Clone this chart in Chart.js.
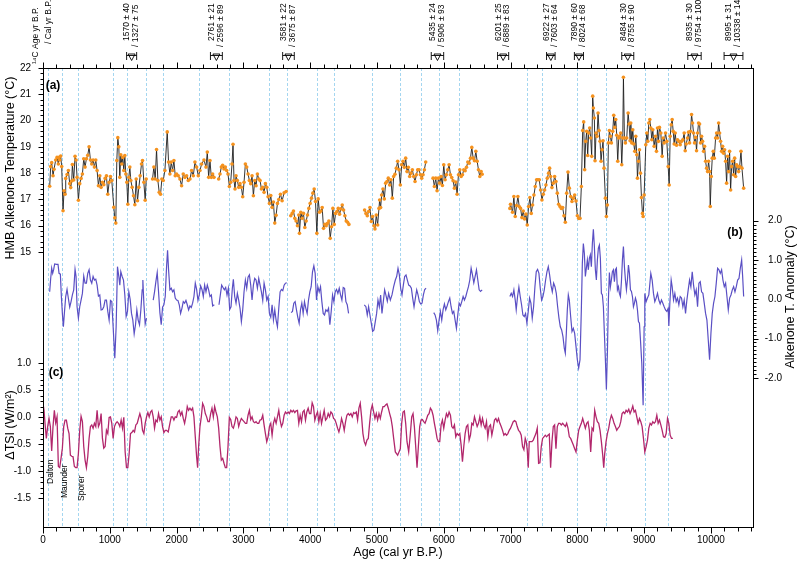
<!DOCTYPE html>
<html>
<head>
<meta charset="utf-8">
<script src="https://cdn.jsdelivr.net/npm/chart.js@4.4.0/dist/chart.umd.min.js"></script>
<style>
  body { margin: 0; background: #fff; }
  #wrap { width: 799px; height: 561px; }
</style>
</head>
<body>
<div id="wrap"><canvas id="Graphique" width="799" height="561"></canvas></div>
<script>
/*
  HMB alkenone temperature (a), its anomaly (b) and solar forcing dTSI (c)
  ages in cal yr B.P.; null = gap in the record
*/
var tempAge = [
    100, 115, 130, 150, 165, 190, 210, 230, 240, 250,
    265, 280, 300, 315, 330, 340, 360, 380, 400, 415,
    430, 440, 460, 480, 495, 510, 530, 550, 570, 590,
    610, 630, 650, 670, 690, 710, 730, 750, 770, 790,
    810, 830, 850, 870, 890, 910, 930, 950, 970, 990,
    1010, 1030, 1060, 1075, 1090, 1105, 1120, 1135, 1150, 1165,
    1180, 1195, 1210, 1225, 1240, 1255, 1270, 1285, 1300, 1315,
    1335, 1355, 1375, 1395, 1415, 1435, 1455, 1475, 1490, 1510,
    1530, 1545,
    1595,
    1640, 1660, 1680, 1700, 1720, 1740, 1760, 1780, 1800, 1825,
    1860, 1880, 1900, 1920, 1940, 1960, 1980, 2000, 2025, 2050,
    2075, 2100, 2125, 2150, 2175, 2200, 2225, 2250, 2275, 2300,
    2325, 2350, 2375, 2410, 2440, 2460, 2480, 2500, 2520, 2540,
    2560,
    2595,
    2630, 2650, 2670, 2690, 2710, 2730, 2750, 2770, 2790, 2810,
    2830, 2845, 2860, 2875, 2890, 2910, 2930, 2950, 2970, 2990,
    3010, 3030, 3050, 3070, 3090, 3110, 3130, 3150, 3170, 3190,
    3210, 3230, 3250, 3270, 3290, 3310, 3330, 3350, 3370, 3390,
    3410, 3430, 3450, 3470, 3490, 3510, 3530, 3555, 3580, 3610,
    3640,
    3675,
    3710, 3730, 3750, 3770, 3790, 3810, 3830, 3840, 3860, 3880,
    3900, 3920, 3940, 3960, 3980, 4000, 4020, 4040, 4060, 4080,
    4100, 4120, 4140, 4160, 4180, 4200, 4220, 4240, 4260, 4280,
    4300, 4320, 4340, 4360, 4380, 4400, 4420, 4440, 4460, 4480,
    4500, 4520, 4540, 4560, 4580,
    4700,
    4815, 4835, 4855, 4875, 4895, 4915, 4935, 4955, 4970, 4990,
    5010, 5030, 5040, 5055, 5070, 5090, 5110, 5130, 5150, 5170,
    5190, 5210, 5230, 5250, 5270, 5290, 5310, 5330, 5350, 5370,
    5390, 5410, 5430, 5450, 5470, 5490, 5510, 5530, 5550, 5570,
    5590, 5610, 5630, 5650, 5670, 5690, 5710, 5730,
    5785,
    5840, 5860, 5880, 5900, 5920, 5940, 5960, 5980, 6000, 6020,
    6040, 6060, 6080, 6100, 6120, 6140, 6160, 6180, 6200, 6220,
    6240, 6260, 6280, 6300, 6320, 6340, 6360, 6380, 6400, 6420,
    6440, 6460, 6480, 6500, 6520, 6540, 6560, 6575,
    6780,
    6990, 7000, 7030, 7050, 7070, 7090, 7110, 7130, 7150, 7170,
    7190, 7210, 7230, 7250, 7270, 7290, 7310, 7330, 7350, 7370,
    7390, 7410, 7430, 7450, 7470, 7490, 7510, 7530, 7550, 7570,
    7585, 7600, 7620, 7640, 7660, 7680, 7700, 7720, 7740, 7760,
    7780, 7800, 7820, 7840, 7860, 7880, 7900, 7920, 7940, 7960,
    7980, 8000, 8020, 8040, 8060, 8080, 8095, 8110, 8125, 8140,
    8155, 8170, 8185, 8200, 8215, 8230, 8240, 8255, 8265, 8280,
    8295, 8310, 8325, 8340, 8355, 8370, 8385, 8400, 8420, 8435,
    8450, 8465, 8480, 8495, 8510, 8530, 8545, 8560, 8575, 8590,
    8605, 8620, 8635, 8650, 8665, 8680, 8690, 8705, 8720, 8740,
    8760, 8775, 8790, 8800, 8815, 8830, 8845, 8860, 8875, 8890,
    8900, 8915, 8930, 8945, 8960, 8975, 8985, 9000,
    9025, 9040, 9055, 9070, 9085, 9100, 9115, 9130, 9150, 9170,
    9185, 9200, 9215, 9230, 9250, 9270, 9285, 9300, 9320, 9340,
    9360, 9375, 9390, 9405, 9420, 9435, 9450, 9465, 9485, 9500,
    9520, 9540, 9560, 9580, 9600, 9615, 9630, 9650, 9665, 9680,
    9695, 9710, 9725, 9740, 9755, 9770, 9785, 9800, 9815, 9830,
    9845, 9860, 9875, 9890, 9905, 9920, 9935, 9950, 9965, 9980,
    9990, 10005, 10020, 10035, 10050, 10070, 10085, 10100, 10115, 10130,
    10145, 10160, 10175, 10190, 10205, 10220, 10235, 10250, 10265, 10280,
    10295, 10310, 10325, 10340, 10355, 10370, 10385, 10400, 10415, 10430,
    10450, 10465, 10490
];
var tempVal = [
    17.5, 18.25, 18.4, 17.9, 18.15, 18.5, 18.6, 18.35, 18.6, 18.5,
    18.65, 18.25, 16.57, 17.33, 17.2, 17.8, 17.95, 18.1, 17.6, 17.45,
    17.7, 18.33, 17.74, 18.64, 18.5, 17.84, 16.97, 17.6, 17.8, 17.97,
    18.55, 18.23, 18.55, 18.68, 19.0, 18.5, 18.35, 18.5, 18.23, 18.5,
    18.1, 17.52, 17.9, 17.46, 17.65, 17.56, 17.8, 17.9, 17.2, 17.65,
    17.87, 17.72, 16.7, 16.3, 16.1, 18.48, 19.35, 19.0, 17.84, 18.7,
    18.35, 18.6, 18.1, 18.67, 17.97, 17.65, 16.82, 17.84, 18.23, 17.72,
    17.46, 17.14, 16.8, 17.78, 16.95, 17.46, 17.9, 18.35, 18.48, 17.65,
    16.97, 17.78,
    null,
    17.78, 18.23, 17.78, 18.9, 17.72, 17.27, 17.2, 17.78, 17.72, 18.1,
    19.57, 18.42, 17.97, 18.42, 18.1, 18.48, 17.9, 17.97, 17.9, 17.78,
    17.52, 17.97, 17.84, 17.9, 17.72, 17.78, 18.1, 17.9, 18.42, 18.23,
    17.9, 18.1, 18.35, 18.5, 18.23, 18.8, 17.84, 18.48, 17.84, 17.97,
    17.84,
    null,
    17.78, 17.97, 18.23, 18.3, 18.16, 18.23, 18.1, 17.97, 17.49, 17.65,
    18.35, 19.1, 17.72, 17.4, 17.9, 17.72, 17.46, 17.6, 17.46, 17.1,
    17.65, 18.35, 18.23, 17.97, 17.72, 17.6, 17.9, 17.14, 17.72, 17.52,
    17.97, 17.78, 17.72, 17.4, 17.46, 17.27, 17.6, 17.46, 17.1, 16.85,
    17.15, 16.7, 16.9, 16.1, 16.4, 16.85, 17.0, 17.2, 16.95, 17.25,
    17.3,
    null,
    16.38, 16.47, 16.56, 16.28, 16.18, 16.0, 16.41, 15.71, 16.51, 16.28,
    16.47, 15.93, 16.18, 16.41, 16.66, 16.85, 17.05, 17.24, 17.4, 16.92,
    15.71, 17.02, 16.51, 16.56, 16.69, 15.9, 16.05, 16.0, 16.09, 16.18,
    15.52, 15.96, 16.66, 16.05, 16.47, 16.54, 16.66, 16.44, 16.64, 16.79,
    16.6, 16.38, 16.18, 16.13, 16.05,
    null,
    16.6, 16.47, 16.38, 16.54, 16.69, 16.16, 16.35, 16.0, 15.88, 16.41,
    16.03, 16.66, 16.98, 16.69, 17.17, 17.4, 17.02, 17.62, 17.68, 17.81,
    17.55, 17.75, 17.05, 17.87, 17.96, 18.19, 18.45, 18.13, 17.55, 18.32,
    18.45, 18.22, 18.57, 18.06, 18.22, 17.87, 18.0, 18.13, 17.87, 17.68,
    17.94, 18.13, 18.13, 17.94, 17.81, 17.94, 18.13, 18.42,
    null,
    17.81, 17.49, 17.81, 17.33, 17.81, 17.62, 17.87, 17.53, 18.32, 17.75,
    17.94, 18.13, 18.32, 17.94, 17.83, 17.71, 17.43, 17.66, 17.2, 17.94,
    18.13, 17.87, 17.94, 18.13, 18.09, 18.22, 18.42, 18.38, 18.57, 18.98,
    18.57, 18.47, 18.83, 18.45, 18.13, 17.87, 18.06, 17.96,
    null,
    16.66, 16.82, 16.51, 17.11, 16.35, 16.77, 17.11, 16.73, 16.66, 16.31,
    16.56, 16.26, 16.44, 16.03, 16.73, 17.07, 16.47, 16.79, 17.17, 17.49,
    17.75, 17.75, 17.75, 17.36, 16.98, 17.2, 17.36, 17.55, 17.81, 18.0,
    18.19, 17.87, 17.45, 17.62, 17.87, 17.68, 17.24, 16.82, 16.73, 16.66,
    16.69, 16.38, 16.13, 17.24, 18.04, 17.43, 17.11, 16.92, 17.05, 17.17,
    16.94, 16.38, 16.28, 16.28, 17.49, 19.62, 19.95, 18.13, 19.21, 19.59,
    18.67, 19.53, 19.72, 19.34, 18.64, 20.93, 20.48, 20.1, 18.47, 19.53,
    19.4, 20.29, 19.62, 19.21, 18.45, 18.89, 19.23, 18.19, 17.05, 16.35,
    16.79, 19.15, 19.62, 19.4, 19.15, 19.59, 20.2, 19.74, 20.04, 19.44,
    18.45, 19.34, 19.4, 19.53, 18.32, 19.34, 21.65, 19.34, 19.15, 19.34,
    20.29, 19.87, 19.23, 19.91, 19.15, 19.65, 19.11, 18.83, 19.4, 18.7,
    17.81, 18.45, 18.89, 18.0, 17.07, 16.47, 16.35, 17.17,
    19.08, 19.53, 19.21, 19.91, 20.04, 19.72, 19.27, 19.65, 19.02, 19.4,
    18.83, 19.72, 19.21, 19.74, 19.53, 18.64, 19.34, 19.15, 19.53, 19.21,
    18.25, 17.55, 19.4, 19.84, 20.04, 19.59, 19.11, 19.53, 19.06, 19.27,
    19.21, 19.08, 19.21, 19.27, 19.53, 18.85, 19.11, 19.34, 19.56, 19.15,
    19.59, 20.23, 19.91, 19.53, 19.15, 19.36, 18.85, 19.53, 19.91, 19.87,
    19.15, 19.4, 19.21, 18.83, 19.02, 18.45, 18.19, 18.06, 18.45, 18.06,
    16.73, 17.87, 18.57, 18.83, 18.57, 19.34, 19.53, 19.34, 19.91, 19.53,
    19.21, 18.83, 19.02, 18.76, 18.89, 18.45, 17.62, 18.64, 18.06, 18.83,
    17.36, 18.25, 18.45, 17.94, 18.57, 17.87, 18.32, 18.25, 18.06, 18.25,
    18.83, 18.19, 17.43
];

var anomAge = [
    100, 115, 130, 145, 160, 175, 200, 225, 240, 260,
    275, 290, 305, 320, 340, 360, 380, 400, 420, 440,
    460, 480, 495, 510, 530, 550, 570, 590, 610, 630,
    650, 670, 690, 710, 730, 750, 770, 790, 810, 830,
    850, 870, 890, 910, 930, 950, 970, 990, 1010, 1030,
    1050, 1075, 1095, 1115, 1135, 1150, 1165, 1185, 1205, 1225,
    1245, 1265, 1285, 1305, 1325, 1345, 1365, 1385, 1405, 1425,
    1445, 1465, 1485, 1495, 1510, 1530, 1550,
    1600,
    1650, 1670, 1690, 1710, 1730, 1750, 1770, 1790, 1810, 1830,
    1850, 1865, 1880, 1900, 1920, 1940, 1960, 1980, 2000, 2020,
    2040, 2060, 2080, 2100, 2120, 2140, 2160, 2180, 2200, 2220,
    2240, 2260, 2280, 2300, 2320, 2340, 2360, 2380, 2400, 2420,
    2440, 2460, 2480, 2500, 2520, 2540, 2565,
    2600,
    2635, 2655, 2675, 2695, 2715, 2735, 2755, 2775, 2795, 2815,
    2835, 2850, 2870, 2890, 2910, 2930, 2950, 2970, 2990, 3010,
    3030, 3050, 3070, 3090, 3110, 3130, 3150, 3170, 3190, 3210,
    3230, 3250, 3270, 3290, 3310, 3330, 3350, 3370, 3390, 3410,
    3430, 3450, 3470, 3490, 3510, 3530, 3550, 3570, 3590, 3610,
    3630, 3650,
    3680,
    3715, 3735, 3755, 3775, 3795, 3815, 3835, 3855, 3875, 3895,
    3915, 3935, 3955, 3975, 3995, 4015, 4035, 4055, 4075, 4095,
    4115, 4135, 4155, 4175, 4195, 4215, 4235, 4255, 4275, 4295,
    4315, 4335, 4355, 4375, 4395, 4415, 4435, 4455, 4475, 4495,
    4515, 4535, 4555, 4575,
    4690,
    4810, 4835, 4855, 4875, 4895, 4915, 4935, 4955, 4975, 4995,
    5015, 5035, 5055, 5075, 5095, 5115, 5135, 5155, 5175, 5200,
    5225, 5250, 5275, 5295, 5315, 5335, 5355, 5375, 5395, 5415,
    5435, 5455, 5475, 5495, 5515, 5535, 5555, 5575, 5595, 5615,
    5635, 5655, 5675, 5695, 5715, 5735,
    5790,
    5850, 5870, 5890, 5910, 5930, 5950, 5970, 5990, 6010, 6030,
    6050, 6070, 6090, 6110, 6130, 6150, 6170, 6190, 6210, 6230,
    6250, 6270, 6290, 6310, 6330, 6350, 6370, 6390, 6410, 6430,
    6450, 6470, 6490, 6510, 6530, 6550, 6575,
    6780,
    6990, 7010, 7030, 7050, 7070, 7085, 7105, 7125, 7145, 7165,
    7185, 7205, 7225, 7245, 7265, 7285, 7305, 7325, 7345, 7365,
    7385, 7405, 7425, 7445, 7465, 7485, 7505, 7525, 7545, 7565,
    7585, 7605, 7625, 7645, 7665, 7685, 7705, 7725, 7745, 7765,
    7785, 7805, 7820, 7835, 7850, 7865, 7880, 7900, 7920, 7940,
    7960, 7980, 8000, 8020, 8040, 8060, 8075, 8090, 8105, 8120,
    8135, 8150, 8165, 8180, 8195, 8210, 8225, 8240, 8255, 8270,
    8285, 8300, 8315, 8330, 8345, 8360, 8375, 8390, 8405, 8420,
    8435, 8450, 8465, 8480, 8495, 8510, 8525, 8540, 8555, 8570,
    8585, 8600, 8615, 8630, 8645, 8660, 8675, 8690, 8705, 8720,
    8735, 8750, 8765, 8780, 8795, 8810, 8825, 8840, 8855, 8870,
    8885, 8900, 8915, 8930, 8945, 8965, 8985, 9000,
    9010, 9030, 9050, 9070, 9100, 9120, 9140, 9160, 9180, 9200,
    9220, 9240, 9260, 9280, 9300, 9320, 9340, 9360, 9370, 9385,
    9405, 9420, 9440, 9460, 9480, 9500, 9520, 9540, 9560, 9580,
    9600, 9620, 9640, 9660, 9680, 9700, 9720, 9740, 9760, 9780,
    9800, 9820, 9840, 9860, 9880, 9900, 9920, 9940, 9960, 9980,
    10000, 10020, 10040, 10060, 10080, 10100, 10120, 10140, 10160, 10180,
    10200, 10220, 10240, 10260, 10280, 10300, 10320, 10340, 10360, 10380,
    10400, 10420, 10440, 10460, 10475, 10490
];
var anomVal = [
    0.19, 0.53, 0.79, 0.66, 0.76, 0.9, 0.89, 0.89, 0.66, 0.64,
    0.07, -0.36, -0.7, -0.36, 0.07, 0.25, 0.02, -0.2, -0.06, 0.11,
    0.24, 0.76, 0.58, -0.19, -0.48, -0.19, -0.02, 0.15, 0.59, 0.41,
    0.41, 0.66, 0.75, 0.49, 0.41, 0.58, 0.49, 0.51, 0.36, 0.08,
    0.11, -0.27, -0.26, -0.19, -0.02, -0.02, -0.31, -0.53, -0.03, -0.06,
    -0.7, -1.5, -0.7, 0.83, 0.58, 0.36, 0.7, 0.58, 0.49, 0.11,
    -0.44, -0.31, 0.19, 0.0, -0.36, -0.53, -0.88, -0.65, -0.27, -0.53,
    -0.65, -0.27, 0.24, 0.49, -0.1, -0.63, -0.48,
    null,
    -0.02, 0.19, 0.45, 0.68, 0.19, -0.34, -0.65, -0.2, -0.14, 0.07,
    0.83, 1.25, 0.75, 0.24, 0.28, 0.19, 0.24, 0.03, -0.02, -0.03,
    -0.14, -0.36, -0.23, -0.06, -0.1, -0.03, -0.14, -0.27, -0.17, -0.21,
    -0.1, 0.07, 0.41, 0.25, -0.03, 0.11, 0.34, 0.25, 0.07, 0.36,
    0.19, 0.36, 0.24, 0.07, 0.11, -0.17, -0.14,
    null,
    -0.14, 0.11, 0.36, 0.3, 0.24, 0.3, 0.11, 0.28, -0.26, -0.19,
    0.28, 0.51, 0.07, -0.1, 0.15, -0.02, -0.23, -0.57, -0.27, 0.19,
    0.49, 0.28, 0.56, 0.62, 0.36, -0.02, 0.36, 0.53, 0.49, 0.28,
    0.53, 0.36, 0.19, -0.03, 0.41, 0.24, -0.02, 0.07, -0.36, -0.46,
    -0.14, -0.53, -0.27, -0.53, -0.7, -0.23, 0.19, 0.25, 0.22, 0.36,
    0.41, 0.42,
    null,
    -0.34, -0.31, -0.1, -0.06, -0.27, -0.46, -0.61, -0.27, -0.1, -0.36,
    -0.06, -0.23, -0.36, -0.02, 0.19, 0.32, 0.7, 0.85, 0.66, -0.02,
    0.32, 0.19, 0.32, -0.06, -0.36, -0.4, -0.27, -0.31, -0.23, -0.65,
    -0.31, 0.11, -0.06, 0.19, 0.25, 0.15, 0.28, 0.11, -0.02, 0.3,
    0.28, -0.06, -0.14, -0.36,
    null,
    -0.14, -0.19, -0.4, -0.19, -0.4, -0.61, -0.82, -0.78, -0.57, -0.36,
    -0.02, -0.19, 0.11, -0.36, -0.06, 0.24, 0.1, -0.05, 0.15, -0.02,
    0.11, 0.32, 0.49, 0.58, 0.79, 0.62, 0.28, 0.11, 0.36, 0.58,
    0.62, 0.49, 0.36, 0.34, 0.28, 0.03, -0.19, 0.03, 0.24, 0.11,
    -0.06, -0.12, -0.1, 0.11, 0.25, 0.28,
    null,
    -0.34, -0.4, -0.53, -0.8, -0.53, -0.31, -0.53, -0.27, -0.12, -0.27,
    -0.17, -0.06, 0.03, -0.19, -0.36, -0.31, -0.53, -0.74, -0.4, -0.1,
    -0.17, -0.06, 0.07, -0.02, 0.07, 0.2, 0.32, 0.49, 0.79, 0.62,
    0.42, 0.58, 0.75, 0.49, 0.24, 0.2, 0.24,
    null,
    0.07, 0.15, 0.07, 0.24, -0.02, -0.27, 0.07, 0.31, 0.07, -0.14,
    -0.4, -0.44, -0.36, -0.61, -0.31, 0.03, -0.1, -0.48, -0.19, 0.32,
    0.7, 0.76, 0.66, 0.28, -0.02, 0.07, 0.24, 0.49, 0.7, 0.83,
    0.62, 0.36, 0.19, 0.41, 0.32, 0.15, -0.19, -0.48, -0.7, -0.78,
    -0.95, -1.25, -1.37, -0.87, -0.27, 0.11, -0.02, -0.44, -0.82, -0.74,
    -0.87, -1.2, -1.54, -1.75, -1.54, -0.27, 0.92, 1.42, 1.17, 0.58,
    0.79, 1.0, 0.75, 1.04, 1.13, 0.83, 1.42, 1.78, 1.34, 0.75,
    0.49, 1.0, 1.3, 1.38, 1.04, 0.15, 0.11, -0.19, -0.87, -1.54,
    -2.3, -1.37, -0.02, 0.68, 0.32, 0.49, 0.7, 0.75, 0.45, 0.75,
    0.79, 0.24, 0.32, 0.15, 0.07, 0.45, 1.0, 1.34, 0.83, 0.49,
    0.24, 0.49, 0.87, 0.66, 0.24, 0.2, 0.07, -0.19, -0.1, 0.03,
    -0.06, -0.27, -0.57, -0.61, -1.03, -1.63, -2.7, -0.7,
    0.15, -0.06, 0.03, 0.11, 0.66, 0.49, 0.15, -0.06, 0.03, 0.15,
    -0.02, -0.12, -0.02, -0.1, -0.19, -0.27, -0.31, -0.23, -0.68, -0.1,
    0.49, 0.32, -0.02, 0.15, -0.06, 0.03, -0.14, 0.07, 0.03, -0.19,
    -0.02, -0.36, -0.02, 0.24, 0.49, 0.32, 0.7, 0.36, 0.11, 0.24,
    -0.19, 0.41, 0.45, 0.19, 0.15, -0.1, -0.36, -0.53, -1.03, -1.54,
    -0.87, -0.36, -0.1, 0.07, 0.41, 0.79, 0.75, 0.66, 0.75, 0.49,
    0.32, 0.41, 0.07, -0.27, 0.03, 0.11, 0.24, 0.32, 0.19, 0.32,
    0.49, 0.53, 0.79, 1.0, 0.58, 0.07
];

var tsiAge = [
    0, 15, 30, 50, 70, 90, 110, 130, 150, 170,
    190, 210, 230, 250, 270, 290, 310, 330, 350, 370,
    390, 410, 430, 450, 470, 490, 510, 530, 550, 570,
    590, 610, 630, 650, 670, 690, 710, 730, 750, 770,
    790, 810, 830, 850, 870, 890, 910, 930, 950, 970,
    990, 1010, 1030, 1050, 1070, 1090, 1110, 1130, 1150, 1170,
    1190, 1210, 1230, 1250, 1270, 1290, 1310, 1330, 1350, 1370,
    1390, 1410, 1430, 1450, 1470, 1490, 1510, 1530, 1550, 1570,
    1590, 1610, 1630, 1650, 1670, 1690, 1710, 1730, 1750, 1770,
    1790, 1810, 1830, 1850, 1875, 1900, 1920, 1940, 1960, 1980,
    2000, 2020, 2040, 2060, 2080, 2100, 2120, 2140, 2160, 2180,
    2200, 2220, 2240, 2260, 2280, 2300, 2315, 2330, 2350, 2370,
    2390, 2410, 2430, 2450, 2470, 2490, 2510, 2530, 2550, 2570,
    2590, 2610, 2630, 2650, 2670, 2690, 2710, 2730, 2750, 2770,
    2790, 2810, 2830, 2850, 2870, 2890, 2910, 2930, 2950, 2970,
    2990, 3010, 3030, 3050, 3070, 3090, 3110, 3130, 3150, 3170,
    3190, 3210, 3230, 3250, 3270, 3290, 3310, 3330, 3350, 3370,
    3390, 3410, 3430, 3450, 3470, 3490, 3510, 3530, 3550, 3570,
    3590, 3610, 3630, 3650, 3670, 3690, 3710, 3730, 3750, 3770,
    3790, 3810, 3830, 3850, 3870, 3890, 3910, 3930, 3950, 3970,
    3990, 4010, 4030, 4050, 4070, 4090, 4110, 4130, 4150, 4170,
    4190, 4210, 4230, 4250, 4270, 4290, 4310, 4330, 4350, 4370,
    4390, 4410, 4430, 4450, 4470, 4490, 4510, 4530, 4550, 4570,
    4590, 4610, 4630, 4650, 4670, 4690, 4710, 4730, 4750, 4770,
    4790, 4810, 4830, 4850, 4870, 4890, 4910, 4930, 4950, 4970,
    4990, 5010, 5030, 5050, 5070, 5090, 5110, 5130, 5150, 5170,
    5190, 5210, 5230, 5250, 5275, 5310,
    5350, 5370, 5390, 5410, 5430, 5450, 5475, 5500, 5520, 5540,
    5560, 5580, 5600, 5620, 5640, 5660, 5680, 5700, 5720, 5740,
    5760, 5780, 5800, 5820, 5840, 5860, 5880, 5900, 5920, 5940,
    5960, 5980, 6000, 6020, 6040, 6060, 6080, 6100, 6120, 6140,
    6160, 6180, 6200, 6220, 6240, 6260, 6280, 6300, 6320, 6340,
    6360, 6380, 6400, 6420, 6440, 6460, 6480, 6500, 6520, 6540,
    6560, 6580, 6600, 6620, 6640, 6660, 6680, 6700, 6720, 6740,
    6760, 6780, 6800, 6820, 6840, 6860, 6880, 6900, 6920, 6940,
    6960, 6980, 7000, 7020, 7040, 7060, 7080, 7100, 7120, 7140,
    7160, 7180, 7200, 7220, 7235, 7250, 7265, 7280, 7300, 7320,
    7340, 7360, 7380, 7400, 7420, 7440, 7460, 7480, 7500, 7520,
    7540, 7560, 7580, 7600, 7620, 7640, 7660, 7680, 7700, 7720,
    7740, 7760, 7780, 7800, 7820, 7840, 7860, 7880, 7900, 7920,
    7940, 7960, 7980, 8000, 8020, 8040, 8060, 8080, 8100, 8120,
    8140, 8160, 8180, 8200, 8220, 8240, 8260, 8280, 8300, 8320,
    8340, 8360, 8380, 8395, 8410, 8430, 8450, 8470, 8490, 8510,
    8530, 8550, 8570, 8590, 8610, 8630, 8650, 8670, 8690, 8710,
    8730, 8750, 8770, 8790, 8810, 8830, 8850, 8870, 8890, 8910,
    8930, 8950, 8970, 8990, 9010, 9030, 9050, 9070, 9090, 9110,
    9130, 9150, 9170, 9190, 9210, 9230, 9250, 9270, 9290, 9310,
    9330, 9350, 9370, 9390, 9410, 9430
];
var tsiVal = [
    0.26, 0.13, -0.11, -0.39, -0.17, -0.02, -0.17, -0.62, -0.17, 0.13,
    -0.1, 0.01, -0.91, -0.93, -0.76, -0.57, -0.17, -0.05, -0.05, -0.2,
    -0.3, -0.7, -0.72, -0.73, -0.91, -0.93, -0.93, -0.67, -0.24, 0.02,
    -0.08, -0.54, -0.79, -0.93, -0.73, -0.39, -0.17, -0.14, -0.2, -0.11,
    -0.17, 0.13, -0.17, -0.11, 0.07, -0.39, -0.57, -0.54, -0.24, -0.3,
    0.0, 0.01, -0.11, -0.39, -0.17, -0.11, -0.08, -0.11, -0.17, -0.05,
    -0.2, 0.0, -0.64, -0.93, -0.93, -0.67, -0.3, -0.28, -0.24, -0.27,
    -0.14, -0.11, -0.02, 0.07, -0.02, -0.24, -0.3, -0.11, 0.01, 0.09,
    0.01, 0.1, 0.13, 0.01, -0.2, -0.05, -0.08, 0.07, -0.05, 0.01,
    -0.17, -0.28, -0.24, -0.24, -0.27, -0.11, 0.01, 0.01, -0.05, 0.01,
    0.0, 0.1, 0.13, 0.04, 0.1, -0.02, -0.11, 0.02, 0.2, 0.13,
    0.17, 0.13, 0.17, 0.01, -0.36, -0.73, -0.93, -0.54, -0.17, 0.01,
    0.26, 0.2, 0.07, 0.01, -0.08, -0.08, 0.07, 0.17, 0.01, 0.2,
    0.1, 0.01, -0.2, -0.54, -0.79, -0.76, -0.85, -0.93, -0.93, -0.54,
    0.0, -0.04, -0.17, -0.2, -0.11, 0.01, -0.02, -0.17, -0.08, -0.02,
    -0.05, -0.08, -0.11, -0.11, 0.04, 0.13, -0.04, 0.01, -0.08, -0.1,
    -0.08, -0.11, -0.11, -0.05, -0.04, 0.04, -0.14, -0.3, -0.45, -0.36,
    -0.17, -0.11, -0.33, -0.11, -0.02, -0.11, 0.01, 0.13, -0.05, -0.17,
    -0.11, 0.04, 0.1, 0.07, 0.1, 0.07, 0.13, 0.1, 0.13, 0.09,
    0.12, 0.13, -0.11, 0.04, -0.08, 0.1, 0.13, -0.05, 0.1, 0.17,
    0.07, 0.07, 0.27, 0.2, -0.05, 0.04, 0.1, -0.08, 0.07, -0.11,
    0.01, 0.13, -0.05, -0.02, 0.07, 0.01, 0.1, 0.07, -0.02, -0.04,
    -0.11, -0.2, -0.27, -0.17, -0.02, -0.11, -0.24, -0.08, 0.04, 0.07,
    0.04, 0.07, 0.01, 0.09, 0.07, 0.1, -0.05, 0.17, 0.26, 0.01,
    -0.3, -0.45, -0.51, -0.42, -0.39, -0.11, 0.13, 0.23, 0.1, -0.02,
    0.07, -0.05, 0.07, -0.02, 0.1, 0.2, 0.2, 0.23, 0.25, 0.17,
    0.07, -0.02, -0.17, -0.39, -0.64, -0.7,
    -0.58, -0.11, 0.1, 0.12, -0.11, -0.45, -0.64, -0.3, 0.01, 0.07,
    -0.17, -0.54, -0.93, -0.54, -0.17, -0.05, -0.04, -0.08, -0.11, -0.04,
    0.04, 0.07, 0.17, 0.13, 0.04, -0.11, -0.24, -0.39, -0.45, -0.45,
    -0.14, -0.05, -0.2, -0.05, 0.07, 0.01, 0.1, 0.04, -0.17, -0.2,
    -0.14, -0.36, -0.3, -0.33, -0.3, -0.51, -0.82, -0.54, -0.3, -0.17,
    -0.14, -0.42, -0.33, -0.11, -0.14, 0.01, -0.08, -0.17, -0.11, 0.01,
    -0.14, -0.02, -0.14, -0.2, -0.08, -0.36, -0.17, -0.14, -0.33, -0.2,
    -0.05, -0.02, -0.08, -0.02, -0.11, -0.17, -0.24, -0.33, -0.3, -0.33,
    -0.3, -0.24, -0.2, -0.14, -0.08, -0.06, -0.08, -0.17, -0.24, -0.27,
    -0.33, -0.54, -0.6, -0.39, -0.45, -0.6, -0.93, -0.45, -0.45, -0.45,
    -0.42, -0.36, -0.3, -0.2, -0.85, -0.84, -0.54, -0.39, -0.36, -0.33,
    -0.36, -0.33, -0.31, -0.93, -0.45, -0.17, -0.14, -0.58, -0.17, -0.11,
    -0.11, -0.14, -0.11, -0.14, -0.17, -0.11, -0.2, -0.36, -0.39, -0.45,
    -0.51, -0.58, -0.64, -0.42, -0.24, -0.17, -0.11, -0.02, -0.11, -0.2,
    -0.11, -0.08, -0.24, -0.64, -0.2, -0.24, 0.13, 0.01, -0.08, -0.11,
    -0.24, -0.45, -0.7, -0.93, -0.67, -0.45, -0.3, -0.2, -0.05, 0.04,
    -0.02, -0.11, -0.17, -0.24, -0.2, -0.17, -0.08, 0.07, 0.1, 0.07,
    0.13, 0.1, 0.15, 0.07, 0.13, 0.21, 0.1, 0.13, 0.01, -0.11,
    -0.02, -0.08, -0.17, -0.39, -0.64, -0.54, -0.42, -0.2, -0.11, -0.14,
    -0.08, -0.11, -0.08, 0.04, -0.11, -0.05, -0.14, -0.24, -0.36, -0.37,
    -0.3, -0.02, -0.11, -0.33, -0.39, -0.39
];

// dated levels : calibrated age, 2 sigma, radiocarbon age label
var calAge = [1327, 2596, 3675, 5906, 6889, 7603, 8024, 8755, 9754, 10338];
var calErr = [75, 89, 87, 93, 83, 64, 68, 90, 100, 141];
var c14Label = ['1570 ± 40', '2761 ± 21', '3581 ± 22', '5435 ± 24', '6201 ± 25',
    '6922 ± 27', '7890 ± 60', '8484 ± 30', '8935 ± 30', '8995 ± 31'];

// cold events (dashed lines)
var eventAge = [81, 285, 520, 1045, 1260, 1536, 1800, 2340, 2781, 3390, 3651, 4095,
    4360, 4926, 5340, 5661, 5936, 6225, 7245, 7476, 7990, 8436, 9006, 9356];

// tick labels
var ageTicks = [0, 1000, 2000, 3000, 4000, 5000, 6000, 7000, 8000, 9000, 10000];
var tempTicks = [15, 16, 17, 18, 19, 20, 21, 22];
var anomTicks = [2, 1, 0, -1, -2];
var tsiTicks = [1.0, 0.5, 0.0, -0.5, -1.0, -1.5];

var solarMin = ['Dalton', 'Maunder', 'Sporer'];
var solarMinPos = [[50.5, 484], [65, 498], [81.5, 501]];

var FONT = "'Liberation Sans', Arial, Helvetica, sans-serif";

function toXY(ages, vals) {
    var pts = [];
    var n = Math.min(ages.length, vals.length);
    for (var i = 0; i < n; i++) pts.push({ x: ages[i], y: vals[i] });
    return pts;
}

function rotText(ctx, txt, x, y, align) {
    ctx.save();
    ctx.translate(x, y);
    ctx.rotate(-Math.PI / 2);
    ctx.textAlign = align;
    ctx.textBaseline = 'middle';
    ctx.fillText(txt, 0, 0);
    ctx.restore();
}

// dashed event lines, under the curves
var guidesPlugin = {
    id: 'guides',
    beforeDatasetsDraw: function (chart) {
        var ctx = chart.ctx, a = chart.chartArea, sx = chart.scales.x;
        ctx.save();
        ctx.strokeStyle = '#a4d6f0';
        ctx.lineWidth = 1;
        ctx.setLineDash([3, 2]);
        eventAge.forEach(function (age) {
            var x = Math.round(sx.getPixelForValue(age)) + 0.5;
            ctx.beginPath();
            ctx.moveTo(x, a.top);
            ctx.lineTo(x, a.bottom);
            ctx.stroke();
        });
        ctx.restore();
    }
};

// frame, the four axes, dated levels and texts
var axesPlugin = {
    id: 'axes',
    afterDraw: function (chart) {
        var ctx = chart.ctx, a = chart.chartArea, s = chart.scales;
        var L = a.left + 0.5, R = a.right + 0.5, T = a.top + 0.5, B = a.bottom + 0.5;
        var i, x, y, len;
        ctx.save();
        ctx.strokeStyle = '#000';
        ctx.fillStyle = '#000';
        ctx.lineWidth = 1;
        ctx.strokeRect(L, T, R - L, B - T);

        ctx.beginPath();
        for (i = 0; i <= 10600; i += 200) {
            x = Math.round(s.x.getPixelForValue(i)) + 0.5;
            len = i % 1000 === 0 ? 6 : 4;
            ctx.moveTo(x, B); ctx.lineTo(x, B + len);
            ctx.moveTo(x, T); ctx.lineTo(x, T - len);
        }
        for (i = 150; i <= 220; i += 2) {
            y = Math.round(s.yT.getPixelForValue(i / 10)) + 0.5;
            len = i % 10 === 0 ? 5 : 3;
            ctx.moveTo(L, y); ctx.lineTo(L - len, y);
        }
        for (i = -15; i <= 10; i++) {
            y = Math.round(s.yS.getPixelForValue(i / 10)) + 0.5;
            len = i % 5 === 0 ? 5 : 3;
            ctx.moveTo(L, y); ctx.lineTo(L - len, y);
        }
        for (i = -20; i <= 20; i++) {
            y = Math.round(s.yA.getPixelForValue(i / 10)) + 0.5;
            len = i % 10 === 0 ? 5 : 3;
            ctx.moveTo(R, y); ctx.lineTo(R + len, y);
        }
        ctx.stroke();

        // tick labels
        ctx.font = '10px ' + FONT;
        ctx.textAlign = 'center';
        ctx.textBaseline = 'top';
        ageTicks.forEach(function (t) {
            ctx.fillText(String(t), s.x.getPixelForValue(t), B + 8);
        });
        ctx.textAlign = 'right';
        ctx.textBaseline = 'middle';
        tempTicks.forEach(function (t) {
            ctx.fillText(String(t), a.left - 12, s.yT.getPixelForValue(t));
        });
        tsiTicks.forEach(function (t) {
            ctx.fillText(t.toFixed(1), a.left - 12, s.yS.getPixelForValue(t));
        });
        anomTicks.forEach(function (t) {
            ctx.fillText(t.toFixed(1), a.right + 29, s.yA.getPixelForValue(t));
        });

        // axis titles
        ctx.font = '12.5px ' + FONT;
        rotText(ctx, 'HMB Alkenone Temperature (°C)', 11, 168, 'center');
        rotText(ctx, 'ΔTSI (W/m²)', 11, 425, 'center');
        rotText(ctx, 'Alkenone T. Anomaly (°C)', 791, 297, 'center');
        ctx.textAlign = 'center';
        ctx.textBaseline = 'middle';
        ctx.fillText('Age (cal yr B.P.)', 398, 553);

        // panel letters
        ctx.font = 'bold 12px ' + FONT;
        ctx.fillText('(a)', 53, 86);
        ctx.fillText('(b)', 735, 233);
        ctx.fillText('(c)', 56, 373);

        // solar minima
        ctx.font = '8.5px ' + FONT;
        solarMin.forEach(function (name, k) {
            rotText(ctx, name, solarMinPos[k][0], solarMinPos[k][1], 'left');
        });

        // dated levels on top axis
        ctx.font = '8.5px ' + FONT;
        rotText(ctx, '¹⁴C Age yr B.P.', 35.5, 64, 'left');
        rotText(ctx, '/ Cal yr B.P.', 49, 44, 'left');
        ctx.lineWidth = 0.9;
        for (i = 0; i < calAge.length; i++) {
            var mx = s.x.getPixelForValue(calAge[i]);
            var x1 = s.x.getPixelForValue(calAge[i] - calErr[i]);
            var x2 = s.x.getPixelForValue(calAge[i] + calErr[i]);
            ctx.beginPath();
            ctx.moveTo(x1, 55.5); ctx.lineTo(x2, 55.5);
            ctx.moveTo(x1, 52); ctx.lineTo(x1, 60);
            ctx.moveTo(x2, 52); ctx.lineTo(x2, 60);
            ctx.moveTo(mx - 3.5, 54); ctx.lineTo(mx + 3.5, 54); ctx.lineTo(mx, 60.5); ctx.closePath();
            ctx.stroke();
            rotText(ctx, c14Label[i], mx - 4.5, 41, 'left');
            rotText(ctx, '/ ' + calAge[i] + ' ± ' + calErr[i], mx + 4, 47, 'left');
        }
        ctx.restore();
    }
};

var chartElem = document.getElementById('Graphique').getContext('2d');

var chartObj = new Chart(chartElem, {
    type: 'line',
    data: {
        datasets: [{
            label: 'HMB alkenone SST',
            data: toXY(tempAge, tempVal),
            yAxisID: 'yT',
            borderColor: '#1e1e1e',
            borderWidth: 0.9,
            pointRadius: 1.8,
            pointBorderWidth: 0,
            pointBackgroundColor: '#f5921e'
        }, {
            label: 'Alkenone anomaly',
            data: toXY(anomAge, anomVal),
            yAxisID: 'yA',
            borderColor: '#5a4fc4',
            borderWidth: 1.2,
            pointRadius: 0
        }, {
            label: 'dTSI',
            data: toXY(tsiAge, tsiVal),
            yAxisID: 'yS',
            borderColor: '#b2276c',
            borderWidth: 1.3,
            pointRadius: 0
        }]
    },
    options: {
        responsive: false,
        animation: false,
        spanGaps: false,
        layout: { padding: { left: 43, right: 46, top: 68, bottom: 34 } },
        elements: { line: { tension: 0 } },
        plugins: {
            legend: { display: false },
            tooltip: { enabled: false }
        },
        scales: {
            x: { type: 'linear', min: 0, max: 10630, display: false },
            yT: { type: 'linear', min: 4.54, max: 22, display: false },
            yA: { type: 'linear', min: -5.80, max: 5.89, display: false },
            yS: { type: 'linear', min: -2.03, max: 6.47, display: false }
        }
    },
    plugins: [guidesPlugin, axesPlugin]
});
</script>
</body>
</html>
